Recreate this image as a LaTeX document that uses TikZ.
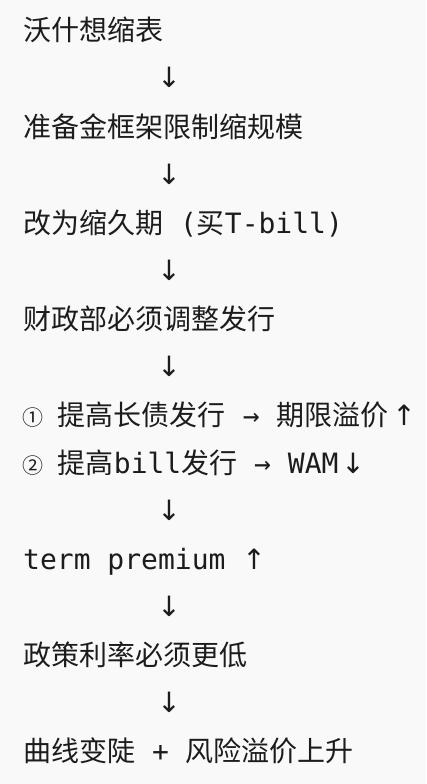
\documentclass[tikz,border=0pt]{standalone}
\usepackage{fontspec}
\setmainfont{DejaVu Sans Mono}
\newfontfamily\cjk{Noto Sans CJK SC}
\newfontfamily\symf{DejaVu Sans}
\usepackage{xcolor}
\definecolor{bgcol}{HTML}{F9F9F9}
\definecolor{txtcol}{HTML}{1C1C1C}
% one monospace cell
\newcommand{\cell}[1]{\makebox[0.602em][c]{#1}}
\newcommand{\up}{\hspace{4pt}{\symf ↑}}
\newcommand{\dn}{\hspace{3pt}{\symf ↓}}
\newcommand{\circnum}[1]{\hspace{1pt}\cell{\fontsize{21}{21}\selectfont\cjk #1}}

\begin{document}
\begin{tikzpicture}
	[x=1pt, y=1pt,
	step line/.style={anchor=base west, inner sep=0pt, text=txtcol,
		font=\fontsize{28}{28}\selectfont},
	down arrow/.style={anchor=base, inner sep=0pt, text=txtcol,
		font=\fontsize{28}{28}\selectfont\symf}]

	\fill[bgcol] (0,0) rectangle (426,-784);
	\useasboundingbox (0,0) rectangle (426,-784);

	\node[step line] (l1) at (23,-41) {\cjk 沃什想缩表};
	\node[down arrow] (a1) at (169,-88) {↓};
	\node[step line] (l2) at (23,-137) {\cjk 准备金框架限制缩规模};
	\node[down arrow] (a2) at (169,-184) {↓};
	\node[step line] (l3) at (23,-233) {{\cjk 改为缩久期} ({\cjk 买}T-bill)};
	\node[down arrow] (a3) at (169,-280) {↓};
	\node[step line] (l4) at (23,-329) {\cjk 财政部必须调整发行};
	\node[down arrow] (a4) at (169,-376) {↓};
	\node[step line] (l5) at (23,-425) {\circnum{①} {\cjk 提高长债发行} → {\cjk 期限溢价}\up};
	\node[step line] (l6) at (23,-473) {\circnum{②} {\cjk 提高}bill{\cjk 发行} → WAM\dn};
	\node[down arrow] (a5) at (169,-520) {↓};
	\node[step line] (l7) at (23,-569) {term premium {\symf ↑}};
	\node[down arrow] (a6) at (169,-616) {↓};
	\node[step line] (l8) at (23,-665) {\cjk 政策利率必须更低};
	\node[down arrow] (a7) at (169,-712) {↓};
	\node[step line] (l9) at (23,-761) {{\cjk 曲线变陡} + {\cjk 风险溢价上升}};

\end{tikzpicture}
\end{document}
